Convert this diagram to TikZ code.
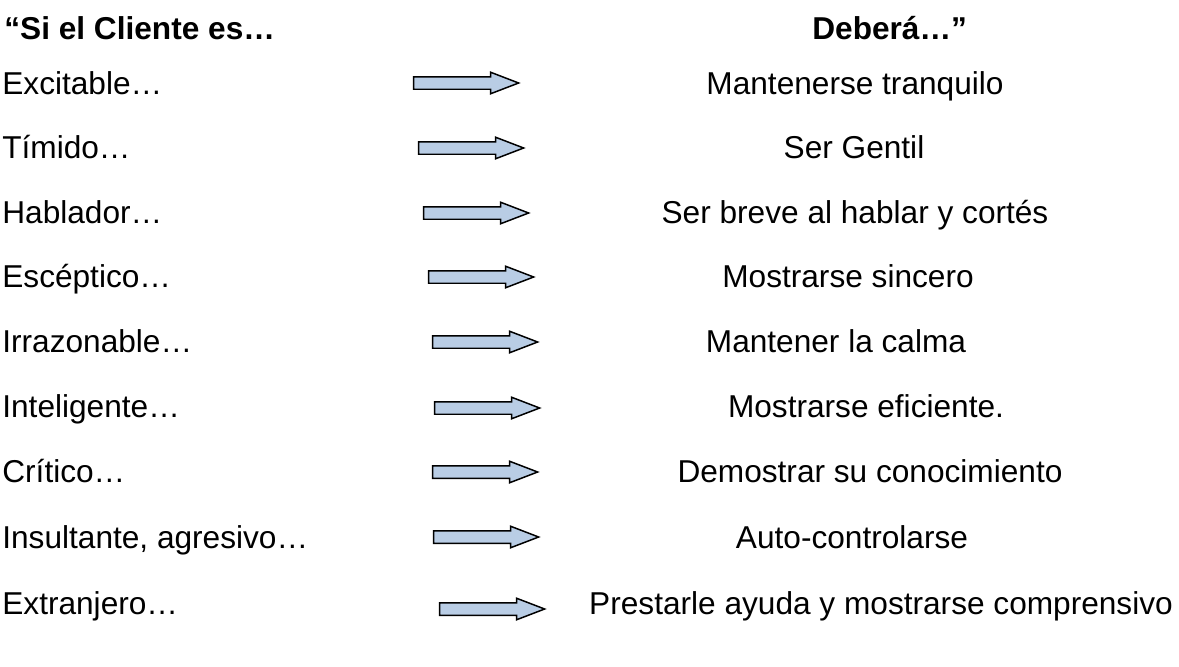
\documentclass[tikz,border=0pt]{standalone}
\usepackage{fontspec}
\setmainfont{Liberation Sans}
\usepackage{xcolor}
\usetikzlibrary{shapes, shapes.arrows, positioning, calc}

\definecolor{arrowblue}{HTML}{B9CDE5}

\begin{document}
\begin{tikzpicture}[
            x=0.02cm, y=-0.02cm,
            head/.style={
				font=\fontsize{18pt}{22pt}\selectfont\bfseries,
				anchor=base west,
				inner sep=0pt
			},
            client/.style={
				font=\fontsize{18pt}{22pt}\selectfont,
				anchor=base west,
				inner sep=0pt
			},
            action/.style={
				font=\fontsize{18pt}{22pt}\selectfont,
				anchor=base,
				inner sep=0pt
			},
            blockarrow/.style={
				single arrow,
				draw=black,
				fill=arrowblue,
				line width=0.85pt,
				minimum height=2.1cm,
				inner xsep=0pt,
				inner ysep=0.11cm,
				single arrow head extend=0.09cm,
				single arrow tip angle=42
			}
        ]

        \useasboundingbox (0,0) rectangle (1179,666);

        % headers
        \node (hclient) [head] at (4,39) {“Si el Cliente es…};
        \node (haction) [head] at (812,39) {Deberá…”};

        % client types
        \node (c1) [client] at (2,94) {Excitable…};
        \node (c2) [client] at (2,158) {Tímido…};
        \node (c3) [client] at (2,223) {Hablador…};
        \node (c4) [client] at (2,287) {Escéptico…};
        \node (c5) [client] at (2,352) {Irrazonable…};
        \node (c6) [client] at (2,417) {Inteligente…};
        \node (c7) [client] at (2,482) {Crítico…};
        \node (c8) [client] at (2,548) {Insultante, agresivo…};
        \node (c9) [client] at (2,614) {Extranjero…};

        % arrows
        \node (a1) [blockarrow] at (458,83) {};
        \node (a2) [blockarrow] at (463,148) {};
        \node (a3) [blockarrow] at (468,213) {};
        \node (a4) [blockarrow] at (473,277) {};
        \node (a5) [blockarrow] at (477,342) {};
        \node (a6) [blockarrow] at (479,408) {};
        \node (a7) [blockarrow] at (477,472) {};
        \node (a8) [blockarrow] at (478,537) {};
        \node (a9) [blockarrow] at (484,609) {};

        % what to do
        \node (r1) [action] at (855,94) {Mantenerse tranquilo};
        \node (r2) [action] at (854,158) {Ser Gentil};
        \node (r3) [action] at (855,223) {Ser breve al hablar y cortés};
        \node (r4) [action] at (848,287) {Mostrarse sincero};
        \node (r5) [action] at (836,352) {Mantener la calma};
        \node (r6) [action] at (866,417) {Mostrarse eficiente.};
        \node (r7) [action] at (870,482) {Demostrar su conocimiento};
        \node (r8) [action] at (852,548) {Auto-controlarse};
        \node (r9) [action] at (881,614) {Prestarle ayuda y mostrarse comprensivo};

\end{tikzpicture}
\end{document}
